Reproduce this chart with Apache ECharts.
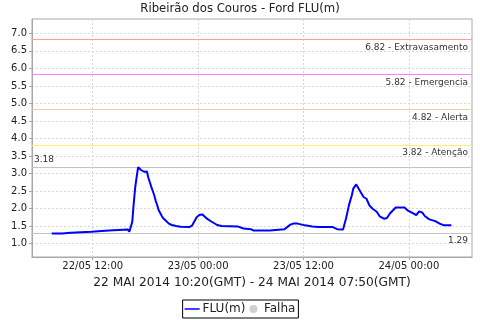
<!DOCTYPE html>
<html><head><meta charset="utf-8">
<script src="https://cdn.jsdelivr.net/npm/echarts@6/dist/echarts.min.js"></script>
<style>html,body{margin:0;padding:0;background:#fff}#c{width:480px;height:320px}</style>
</head><body><div id="c"></div>
<script>
const times = [
 '2014-05-22 07:20','2014-05-22 08:30','2014-05-22 08:40','2014-05-22 09:30','2014-05-22 09:40',
 '2014-05-22 11:50','2014-05-22 12:00','2014-05-22 13:50','2014-05-22 14:00','2014-05-22 16:00',
 '2014-05-22 16:10','2014-05-22 16:20','2014-05-22 16:30','2014-05-22 16:40','2014-05-22 16:50',
 '2014-05-22 17:00','2014-05-22 17:10','2014-05-22 17:20','2014-05-22 17:30','2014-05-22 17:40',
 '2014-05-22 17:50','2014-05-22 18:00','2014-05-22 18:10','2014-05-22 18:20','2014-05-22 18:30',
 '2014-05-22 18:40','2014-05-22 18:50','2014-05-22 19:00','2014-05-22 19:10','2014-05-22 19:20',
 '2014-05-22 19:30','2014-05-22 19:40','2014-05-22 19:50','2014-05-22 20:00','2014-05-22 20:20',
 '2014-05-22 20:40','2014-05-22 21:00','2014-05-22 21:30','2014-05-22 22:00','2014-05-22 23:00',
 '2014-05-22 23:20','2014-05-22 23:30','2014-05-22 23:50','2014-05-23 00:10','2014-05-23 00:30',
 '2014-05-23 01:00','2014-05-23 01:30','2014-05-23 02:10','2014-05-23 02:40','2014-05-23 04:30',
 '2014-05-23 05:10','2014-05-23 06:00','2014-05-23 06:20','2014-05-23 08:10','2014-05-23 08:20',
 '2014-05-23 09:50','2014-05-23 10:30','2014-05-23 10:50','2014-05-23 11:20','2014-05-23 12:10',
 '2014-05-23 13:00','2014-05-23 13:40','2014-05-23 15:20','2014-05-23 15:50','2014-05-23 16:30',
 '2014-05-23 16:50','2014-05-23 17:10','2014-05-23 17:30','2014-05-23 17:40','2014-05-23 18:00',
 '2014-05-23 18:10','2014-05-23 18:30','2014-05-23 18:50','2014-05-23 19:10','2014-05-23 19:30',
 '2014-05-23 19:50','2014-05-23 20:20','2014-05-23 20:40','2014-05-23 21:10','2014-05-23 21:30',
 '2014-05-23 21:50','2014-05-23 22:30','2014-05-23 23:30','2014-05-23 23:50','2014-05-24 00:30',
 '2014-05-24 00:50','2014-05-24 01:10','2014-05-24 01:30','2014-05-24 01:50','2014-05-24 02:20',
 '2014-05-24 03:00','2014-05-24 03:30','2014-05-24 04:00','2014-05-24 04:50'
];
const flu = [
 1.29,1.29,1.31,1.31,1.34,
 1.34,1.37,1.37,1.40,1.40,
 1.34,1.33,1.62,2.15,2.60,
 2.90,3.18,3.16,3.10,3.07,
 3.05,3.06,3.06,2.88,2.75,
 2.62,2.50,2.38,2.22,2.10,
 1.96,1.88,1.80,1.73,1.65,
 1.57,1.53,1.50,1.48,1.47,
 1.52,1.60,1.75,1.82,1.83,
 1.71,1.63,1.53,1.50,1.49,
 1.43,1.41,1.37,1.37,1.40,
 1.41,1.54,1.57,1.57,1.52,
 1.49,1.47,1.47,1.41,1.40,
 1.71,2.09,2.38,2.57,2.69,
 2.65,2.47,2.33,2.28,2.09,
 2.00,1.91,1.78,1.71,1.73,
 1.86,2.03,2.03,1.95,1.86,
 1.81,1.92,1.89,1.78,1.69,
 1.64,1.57,1.52,1.52
];
const thresholds = [6.82, 5.82, 4.82, 3.82];
const thresholdNames = ['Extravasamento', 'Emergencia', 'Alerta', 'Atenção'];
const thresholdColors = ['#f4a0a0', '#ff80ff', '#f8c8a0', '#ffee70'];
const maxValue = 3.18, minValue = 1.29;
const yTicks = [1.0,1.5,2.0,2.5,3.0,3.5,4.0,4.5,5.0,5.5,6.0,6.5,7.0];
const xTicks = ['2014-05-22 12:00','2014-05-23 00:00','2014-05-23 12:00','2014-05-24 00:00'];
const xMin = '2014-05-22 05:05', xMax = '2014-05-24 07:11';
const yMin = 0.617, yMax = 7.41;
const titleText = 'Ribeirão dos Couros - Ford FLU(m)';
const rangeText = '22 MAI 2014 10:20(GMT) - 24 MAI 2014 07:50(GMT)';

const F = 'DejaVu Sans';
// hours since 2014-05-22 00:00
const hrs = s => { const d = +s.slice(8, 10), h = +s.slice(11, 13), m = +s.slice(14, 16); return (d - 22) * 24 + h + m / 60; };
const pad = n => (n < 10 ? '0' : '') + n;
const fmtX = v => { const tot = Math.round(v * 60); const d = 22 + Math.floor(tot / 1440); const r = tot % 1440; return pad(d) + '/05 ' + pad(Math.floor(r / 60)) + ':' + pad(r % 60); };

const markData = thresholds.map((t, i) => ({
  yAxis: t,
  lineStyle: {color: thresholdColors[i], type: 'solid', width: 1},
  label: {formatter: t.toFixed(2) + ' - ' + thresholdNames[i], position: 'insideEndBottom', color: '#333', fontFamily: F, fontSize: 9, distance: [4, 3]}
}));
markData.push({yAxis: maxValue, lineStyle: {color: '#c4c4c4', type: 'solid', width: 1},
  label: {formatter: maxValue.toFixed(2), position: 'insideStartTop', color: '#333', fontFamily: F, fontSize: 9, distance: [2, 3]}});
markData.push({yAxis: minValue, lineStyle: {color: '#c4c4c4', type: 'solid', width: 1},
  label: {formatter: minValue.toFixed(2), position: 'insideEndBottom', color: '#333', fontFamily: F, fontSize: 9, distance: [4, 3]}});

const chart = echarts.init(document.getElementById('c'), null, {renderer: 'canvas'});
chart.setOption({
  animation: false,
  backgroundColor: '#fff',
  title: {text: titleText, left: 'center', top: 3, padding: 0, textStyle: {fontFamily: F, fontSize: 11.7, fontWeight: 'normal', color: '#222'}},
  grid: {left: 32, right: 8, top: 19, bottom: 63, show: true, borderColor: '#a8a8a8', borderWidth: 1},
  xAxis: {
    type: 'value', min: hrs(xMin), max: hrs(xMax),
    name: rangeText, nameLocation: 'middle', nameGap: 20,
    nameTextStyle: {fontFamily: F, fontSize: 12.2, color: '#222'},
    axisLine: {lineStyle: {color: '#a8a8a8'}},
    axisTick: {show: true, length: 3, customValues: xTicks.map(hrs), lineStyle: {color: '#a8a8a8'}},
    axisLabel: {customValues: xTicks.map(hrs), formatter: fmtX, fontFamily: F, fontSize: 10, color: '#222', margin: 4},
    splitLine: {show: true, lineStyle: {color: '#d8d8d8', type: [2, 2], width: 1}}
  },
  yAxis: {
    type: 'value', min: yMin, max: yMax,
    axisLine: {show: true, lineStyle: {color: '#a8a8a8'}},
    axisTick: {show: true, length: 3, customValues: yTicks, lineStyle: {color: '#a8a8a8'}},
    axisLabel: {customValues: yTicks, formatter: v => v.toFixed(1), fontFamily: F, fontSize: 10, color: '#222', margin: 5},
    splitLine: {show: true, lineStyle: {color: '#d8d8d8', type: [2, 2], width: 1}}
  },
  legend: {
    bottom: 2, left: 'center',
    data: [{name: 'FLU(m)', icon: 'path://M0,0 L20,0 L20,2 L0,2 Z'}, {name: 'Falha', icon: 'circle'}],
    borderColor: '#000', borderWidth: 1, padding: [3, 3, 3, 2], itemGap: 4,
    itemWidth: 15, itemHeight: 8,
    textStyle: {fontFamily: F, fontSize: 12, color: '#222', padding: [0, 0, 0, -2]}
  },
  series: [
    {
      name: 'FLU(m)', type: 'line', symbol: 'none', z: 5,
      color: '#0000ff', lineStyle: {color: '#0000ff', width: 2},
      data: times.map((t, i) => [hrs(t), flu[i]]),
      markLine: {silent: true, symbol: 'none', z: 3, data: markData}
    },
    {name: 'Falha', type: 'scatter', color: '#c4c4c4', data: []}
  ]
});
</script></body></html>
